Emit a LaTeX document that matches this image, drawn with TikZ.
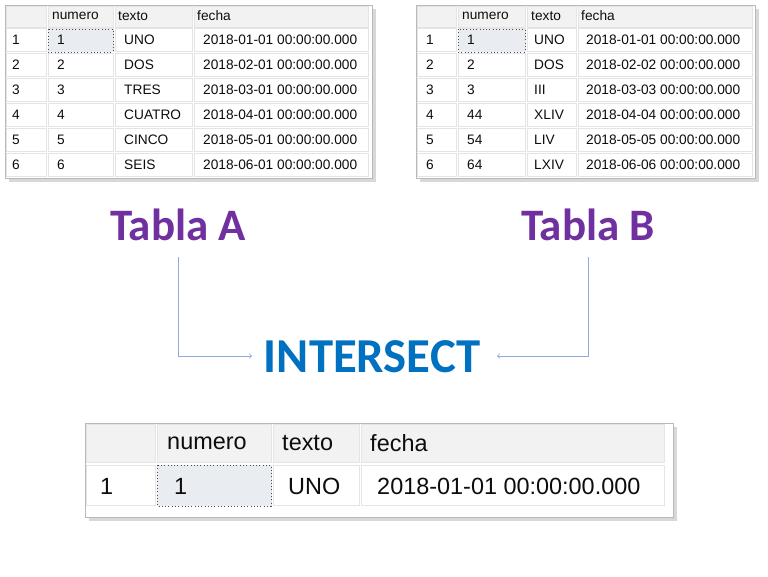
\documentclass[tikz,border=0pt]{standalone}
\usepackage{fontspec}
\setmainfont{Liberation Sans}
\newfontfamily\calibri{Carlito}
\usetikzlibrary{positioning,shadows}

\definecolor{morado}{HTML}{7030A0}
\definecolor{azul}{HTML}{0070C0}
\definecolor{flecha}{HTML}{8FAADC}
\definecolor{rejilla}{HTML}{E4E4E4}
\definecolor{cabecera}{HTML}{F2F2F2}
\definecolor{selec}{HTML}{E9EDF1}

\begin{document}
\begin{tikzpicture}[x=0.03cm, y=-0.03cm,
		marco/.style={draw=gray!55, fill=white, drop shadow={shadow xshift=3pt, shadow yshift=-3pt, opacity=0.3}},
		celda/.style={draw=rejilla, line width=0.6pt},
		cab/.style={celda, fill=cabecera},
		sel/.style={draw=black!70, dotted, line width=0.8pt, fill=selec},
		dato/.style={anchor=west, inner sep=0pt, text=black!95, font=\fontsize{11.7}{13}\selectfont},
		datogr/.style={anchor=west, inner sep=0pt, text=black!95, font=\fontsize{20}{22}\selectfont},
		titulo/.style={anchor=base, inner sep=0pt, text=morado, font=\calibri\bfseries\fontsize{38.4}{40}\selectfont},
		]
	\useasboundingbox[fill=white] (0,0) rectangle (768,576);

	%Tabla A
	\draw[marco] (5,5) rectangle (372,178);
	\foreach \xa/\xb in {5/47,47/114,114/193,193/369}
		\draw[cab] (\xa+1,6) rectangle (\xb-1,27);
	\foreach \r in {1,...,6}
		\foreach \xa/\xb in {5/47,47/114,114/193,193/369}
			\draw[celda] (\xa+1,{28+(\r-1)*25}) rectangle (\xb-1,{51+(\r-1)*25});
	\draw[sel] (48,29) rectangle (113,52);
	\node[dato] (a-numero) at (52,16) {numero};
	\node[dato] (a-texto) at (118,16) {texto};
	\node[dato] (a-fecha) at (197,16) {fecha};
	\foreach \r/\t/\m in {1/UNO/01,2/DOS/02,3/TRES/03,4/CUATRO/04,5/CINCO/05,6/SEIS/06}{
		\node[dato] (a-fila\r) at (12,{40+(\r-1)*25}) {\r};
		\node[dato] (a-num\r) at (57,{40+(\r-1)*25}) {\r};
		\node[dato] (a-txt\r) at (124,{40+(\r-1)*25}) {\t};
		\node[dato] (a-fec\r) at (203,{40+(\r-1)*25}) {2018-\m-01 00:00:00.000};
	}

	%Tabla B
	\draw[marco] (416,5) rectangle (755,178);
	\foreach \xa/\xb in {416/457,457/526,526/577,577/753}
		\draw[cab] (\xa+1,6) rectangle (\xb-1,27);
	\foreach \r in {1,...,6}
		\foreach \xa/\xb in {416/457,457/526,526/577,577/753}
			\draw[celda] (\xa+1,{28+(\r-1)*25}) rectangle (\xb-1,{51+(\r-1)*25});
	\draw[sel] (458,29) rectangle (525,52);
	\node[dato] (b-numero) at (462,16) {numero};
	\node[dato] (b-texto) at (531,16) {texto};
	\node[dato] (b-fecha) at (581,16) {fecha};
	\foreach \r/\n/\t/\m in {1/1/UNO/01-01,2/2/DOS/02-02,3/3/III/03-03,4/44/XLIV/04-04,5/54/LIV/05-05,6/64/LXIV/06-06}{
		\node[dato] (b-fila\r) at (426,{40+(\r-1)*25}) {\r};
		\node[dato] (b-num\r) at (467,{40+(\r-1)*25}) {\n};
		\node[dato] (b-txt\r) at (534,{40+(\r-1)*25}) {\t};
		\node[dato] (b-fec\r) at (586,{40+(\r-1)*25}) {2018-\m\ 00:00:00.000};
	}

	%Titulos
	\node[titulo] (tablaA) at (178,240) {Tabla A};
	\node[titulo] (tablaB) at (588,240) {Tabla B};
	\node[anchor=base, inner sep=0pt, text=azul, font=\calibri\bfseries\fontsize{41.6}{44}\selectfont] (inter) at (372,372) {INTERSECT};

	%Flechas
	\coordinate (ia) at (252,356);
	\coordinate (ib) at (497,356);
	\draw[->, flecha, line width=0.7pt] ([yshift=-0.5cm]tablaA.south) |- (ia);
	\draw[->, flecha, line width=0.7pt] ([yshift=-0.5cm]tablaB.south) |- (ib);

	%Resultado
	\draw[marco] (85,423) rectangle (673,517);
	\foreach \xa/\xb in {85/156,156/272,272/360,360/665}{
		\draw[cab] (\xa+1,424) rectangle (\xb-1,462);
		\draw[celda] (\xa+1,465) rectangle (\xb-1,505);
	}
	\draw[sel] (157,465) rectangle (271,506);
	\node[datogr] (r-numero) at (167,443) {numero};
	\node[datogr] (r-texto) at (282,443) {texto};
	\node[datogr] (r-fecha) at (370,443) {fecha};
	\node[datogr] (r-fila1) at (100,486) {1};
	\node[datogr] (r-num1) at (174,486) {1};
	\node[datogr] (r-txt1) at (288,486) {UNO};
	\node[datogr] (r-fec1) at (377,486) {2018-01-01 00:00:00.000};
\end{tikzpicture}
\end{document}
